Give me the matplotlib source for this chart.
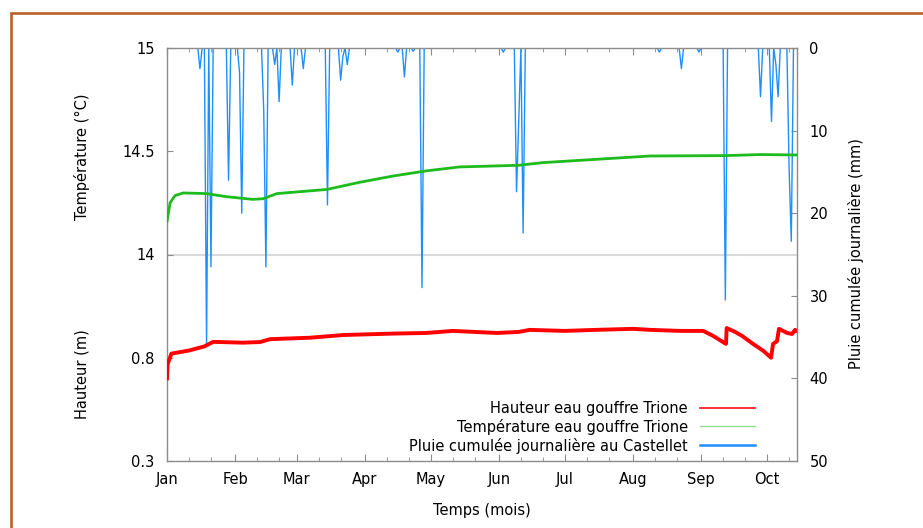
import matplotlib
matplotlib.use("Agg")
import matplotlib.pyplot as plt
import matplotlib.dates as mdates
from matplotlib.lines import Line2D
from matplotlib.patches import Rectangle
import numpy as np

# jours comptés depuis le 1er janvier (année non bissextile)
jour0 = np.datetime64("2013-01-01")

# température eau gouffre Trione (°C)
temp_jours = [0, 1.4, 3.6, 7.4, 18, 27, 39, 43.7, 50, 72.7, 87.8, 102.8, 118, 133,
              160, 171, 175.6, 194, 209, 219.8, 254.6, 269.8, 286.5]
temp_vals = [14.16, 14.25, 14.285, 14.298, 14.295, 14.28, 14.267, 14.27, 14.295, 14.315,
             14.35, 14.38, 14.405, 14.424, 14.432, 14.445, 14.448, 14.46, 14.47, 14.477,
             14.479, 14.484, 14.482]

# hauteur eau gouffre Trione (m)
haut_jours = [0, 0.3, 2, 10, 17, 21, 34.6, 42.3, 46.9, 65, 80, 102.8, 118, 130,
              150, 160, 165, 181, 195, 212, 220, 233.4, 243.9, 248.4, 254.3, 254.6,
              258.4, 261.6, 266.6, 271.2, 274.8, 275.7, 277.5, 278.4, 282.1, 284.3,
              285.7, 286.5]
haut_vals = [0.70, 0.77, 0.82, 0.835, 0.855, 0.877, 0.873, 0.876, 0.89, 0.897, 0.91,
             0.917, 0.92, 0.93, 0.92, 0.925, 0.935, 0.93, 0.935, 0.94, 0.935, 0.93,
             0.93, 0.906, 0.867, 0.944, 0.925, 0.906, 0.867, 0.834, 0.80, 0.867,
             0.88, 0.94, 0.92, 0.915, 0.935, 0.93]

# pluie cumulée journalière au Castellet (mm), jours de pluie seulement
pluie_jours = [15, 18, 20, 28, 33, 34, 44, 45, 49, 51, 57, 62, 73, 79, 80, 82, 105, 108,
               112, 116, 153, 159, 160, 162, 224, 234, 242, 254, 270, 275, 277, 278,
               283, 284]
pluie_mm = [2.5, 36, 26.5, 16, 3, 20, 7.5, 26.5, 2, 6.5, 4.5, 2.5, 19, 3.9, 1, 2, 0.5,
            3.5, 0.4, 29, 0.5, 17.4, 9, 22.4, 0.5, 2.5, 0.5, 30.5, 5.9, 8.9, 2, 5.9,
            14.5, 23.4]
nb_jours = 287

plt.rcParams["font.family"] = "DejaVu Sans"
plt.rcParams["font.size"] = 10.5

t0 = mdates.date2num(jour0)
pluie = np.zeros(nb_jours)
pluie[pluie_jours] = pluie_mm

W, H = 923, 528
fig = plt.figure(figsize=(W / 100, H / 100), dpi=100)

L, R, T, B = 167, 797, 48, 461
rect = [L / W, 1 - B / H, (R - L) / W, (B - T) / H]
gris = "#8c8c8c"

# axe pluie (toute la hauteur, échelle inversée à droite)
ax_r = fig.add_axes(rect)
ax_r.plot(t0 + np.arange(nb_jours), pluie, color="#1e8fff", lw=1.0, zorder=2)
ax_r.axhline(25, color="#dadada", lw=1.5, zorder=1)
ax_r.set_ylim(50, 0)
ax_r.set_xlim(t0, t0 + 286.6)
ax_r.yaxis.tick_right()
ax_r.set_yticks([0, 10, 20, 30, 40, 50])
ax_r.xaxis.set_major_locator(mdates.MonthLocator())
ax_r.xaxis.set_major_formatter(mdates.DateFormatter("%b"))
ax_r.xaxis.set_minor_locator(mdates.DayLocator(bymonthday=[11, 21]))
ax_r.tick_params(axis="x", which="both", direction="in", top=True, bottom=True,
                 color=gris, pad=8)
ax_r.tick_params(axis="x", which="major", length=5)
ax_r.tick_params(axis="x", which="minor", length=3)
ax_r.tick_params(axis="y", direction="in", length=4, color=gris, pad=9)
for s in ax_r.spines.values():
    s.set_color(gris)
    s.set_linewidth(1.0)

# panneau haut : température
h2 = rect[3] / 2
ax_t = fig.add_axes([rect[0], rect[1] + h2, rect[2], h2])
ax_t.patch.set_alpha(0)
ax_t.plot(t0 + np.array(temp_jours), temp_vals, color="#1dbb1d", lw=2.0)
ax_t.set_ylim(14, 15)
ax_t.set_xlim(ax_r.get_xlim())
ax_t.set_yticks([14, 14.5, 15])
ax_t.set_yticklabels(["14", "14.5", "15"])

# panneau bas : hauteur
ax_h = fig.add_axes([rect[0], rect[1], rect[2], h2])
ax_h.patch.set_alpha(0)
ax_h.plot(t0 + np.array(haut_jours), haut_vals, color="#ff0000", lw=2.8)
ax_h.set_ylim(0.3, 1.3)
ax_h.set_xlim(ax_r.get_xlim())
ax_h.set_yticks([0.3, 0.8])

for ax in (ax_t, ax_h):
    for s in ax.spines.values():
        s.set_visible(False)
    ax.set_xticks([])
    ax.tick_params(axis="y", direction="in", length=4, color=gris, pad=9)

# titres des axes
fig.text(82 / W, 1 - 157 / H, "Température (°C)", rotation=90, ha="center", va="center")
fig.text(82 / W, 1 - 374 / H, "Hauteur (m)", rotation=90, ha="center", va="center")
fig.text(856 / W, 1 - 254 / H, "Pluie cumulée journalière (mm)", rotation=90,
         ha="center", va="center")
fig.text(481.5 / W, 1 - 510 / H, "Temps (mois)", ha="center", va="center")

# légende
poignees = [Line2D([], [], color="#ff2020", lw=1.3),
            Line2D([], [], color="#8fe08f", lw=1.0),
            Line2D([], [], color="#1e8fff", lw=1.8)]
noms = ["Hauteur eau gouffre Trione", "Température eau gouffre Trione",
        "Pluie cumulée journalière au Castellet"]
fig.legend(poignees, noms, loc="lower right", bbox_to_anchor=(755 / W, 1 - 453.5 / H),
           bbox_transform=fig.transFigure, frameon=False, markerfirst=False,
           borderpad=0, borderaxespad=0, handlelength=3.8, handletextpad=0.8,
           labelspacing=0.2)

# cadre brun autour de la figure
fig.patches.append(Rectangle((11 / W, -0.1), 2, 1 - 13 / H + 0.1, transform=fig.transFigure,
                             fill=False, ec="#b8602a", lw=1.9))

fig.savefig("out.png", dpi=100)
